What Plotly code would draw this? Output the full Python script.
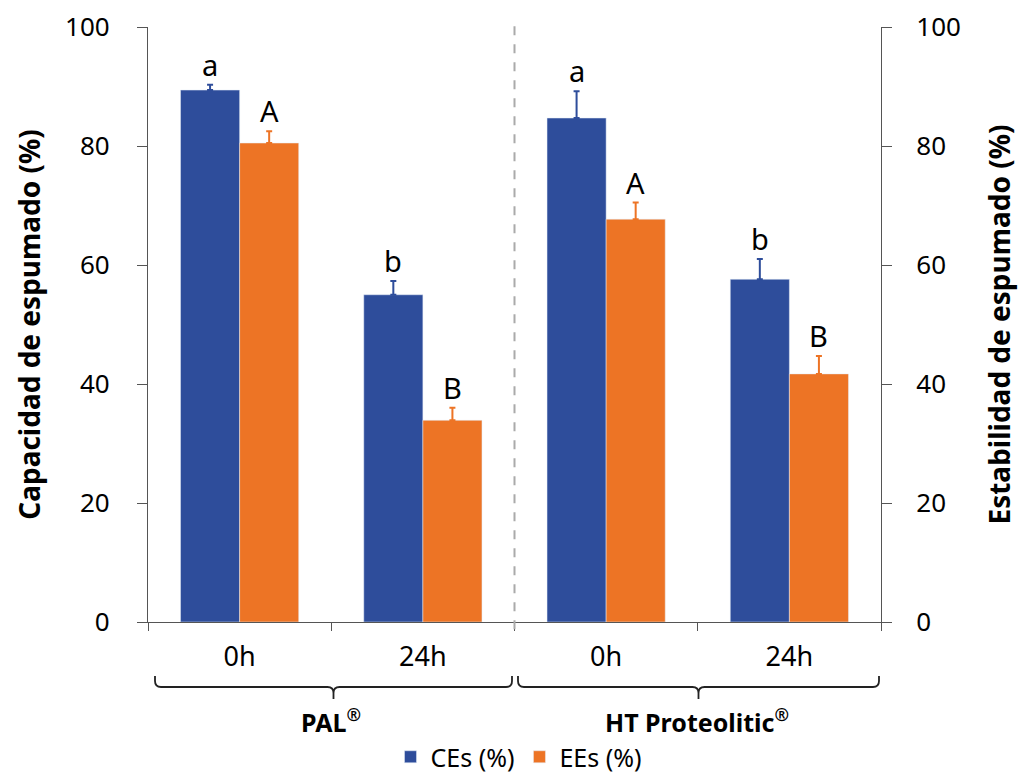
import plotly.graph_objects as go

categories = ["PAL 0h", "PAL 24h", "HT 0h", "HT 24h"]
tick_labels = ["0h", "24h", "0h", "24h"]
group_labels = ["PAL<sup>®</sup>", "HT Proteolitic<sup>®</sup>"]

ce_values = [89.4, 55.0, 84.7, 57.6]
ce_errors = [0.9, 2.3, 4.5, 3.4]
ce_letters = ["a", "b", "a", "b"]

ee_values = [80.5, 33.9, 67.7, 41.7]
ee_errors = [2.0, 2.1, 2.8, 3.0]
ee_letters = ["A", "B", "A", "B"]

BLUE = "#2E4D9B"
ORANGE = "#ED7425"
FONT = "Noto Sans"

W, H = 1019, 773
L, R, T, B = 148, 138, 27, 151
PW = W - L - R
PH = H - T - B

def px(x):
    return (x - L) / PW

def py(y):
    return (H - B - y) / PH

fig = go.Figure()
fig.add_trace(go.Bar(
    name="CEs (%)", x=categories, y=ce_values, marker_color=BLUE,
    error_y=dict(type="data", array=ce_errors, symmetric=False, arrayminus=[0]*4,
                 color=BLUE, thickness=2, width=3),
))
fig.add_trace(go.Bar(
    name="EEs (%)", x=categories, y=ee_values, marker_color=ORANGE,
    error_y=dict(type="data", array=ee_errors, symmetric=False, arrayminus=[0]*4,
                 color=ORANGE, thickness=2, width=3),
))
# helper trace so the right axis is drawn
fig.add_trace(go.Scatter(x=[categories[0]], y=[None], yaxis="y2", showlegend=False,
                         hoverinfo="skip", mode="markers"))

bargap = 0.355
bar_px = PW / 4 * (1 - bargap) / 2
annotations = []
for i, c in enumerate(categories):
    annotations.append(dict(x=c, y=ce_values[i] + ce_errors[i], text=ce_letters[i],
                            xshift=-bar_px / 2, yshift=-1, yanchor="bottom", showarrow=False,
                            font=dict(size=29, color="black", family=FONT)))
    annotations.append(dict(x=c, y=ee_values[i] + ee_errors[i], text=ee_letters[i],
                            xshift=bar_px / 2, yshift=-1, yanchor="bottom", showarrow=False,
                            font=dict(size=29, color="black", family=FONT)))

# group labels
for gx, lab in zip([331, 697], group_labels):
    annotations.append(dict(x=px(gx), y=py(720), xref="paper", yref="paper", text="<b>" + lab + "</b>",
                            xanchor="center", yanchor="middle",
                            showarrow=False, font=dict(size=25, color="black", family=FONT)))

def brace(x0, x1, ytop, yline, ybot, r=6):
    xm = (x0 + x1) / 2
    def P(x, y):
        return f"{px(x):.5f},{py(y):.5f}"
    path = (f"M {P(x0, ytop)} L {P(x0, yline - r)} Q {P(x0, yline)} {P(x0 + r, yline)} "
            f"L {P(xm - r, yline)} Q {P(xm, yline)} {P(xm, yline + r)} L {P(xm, ybot)} "
            f"M {P(xm, yline + r)} Q {P(xm, yline)} {P(xm + r, yline)} "
            f"L {P(x1 - r, yline)} Q {P(x1, yline)} {P(x1, yline - r)} L {P(x1, ytop)}")
    return dict(type="path", path=path, xref="paper", yref="paper",
                line=dict(color="#222222", width=1.8))

shapes = [
    dict(type="line", xref="x", yref="paper", x0=1.5, x1=1.5, y0=-0.012, y1=py(18),
         line=dict(color="#AAAAAA", width=2, dash="dash")),
    brace(155, 512, 676, 687, 699),
    brace(518, 879, 676, 687, 699),
]

axis_line = "#555555"
fig.update_layout(
    width=W, height=H,
    margin=dict(l=L, r=R, t=T, b=B, autoexpand=False),
    plot_bgcolor="white", paper_bgcolor="white",
    barmode="group", bargap=bargap, bargroupgap=0,
    font=dict(family=FONT, color="black"),
    xaxis=dict(type="category", range=[-0.5, 3.5], tickvals=categories, ticktext=tick_labels,
               tickson="boundaries", ticks="outside", ticklen=8, tickcolor=axis_line,
               showline=True, linecolor=axis_line, linewidth=1.2, automargin=False,
               ticklabelstandoff=10,
               tickfont=dict(size=27, family=FONT), showgrid=False),
    yaxis=dict(range=[0, 100], dtick=20, ticks="outside", ticklen=10, tickcolor=axis_line,
               showline=True, linecolor=axis_line, linewidth=1.2, showgrid=False, zeroline=False,
               tickfont=dict(size=26, family=FONT), automargin=False, ticklabelstandoff=22,
               title=dict(text="<b>Capacidad de espumado (%)</b>", font=dict(size=28, family=FONT), standoff=16)),
    yaxis2=dict(range=[0, 100], dtick=20, overlaying="y", side="right", anchor="x",
                ticks="outside", ticklen=10, tickcolor=axis_line, automargin=False,
                showline=True, linecolor=axis_line, linewidth=1.2, showgrid=False, zeroline=False,
                tickfont=dict(size=26, family=FONT), ticklabelstandoff=19,
                title=dict(text="<b>Estabilidad de espumado (%)</b>", font=dict(size=28, family=FONT), standoff=30)),
    legend=dict(orientation="h", x=px(519), xanchor="center", xref="paper",
                y=py(757), yanchor="middle", font=dict(size=25, family=FONT),
                traceorder="normal"),
    annotations=annotations,
    shapes=shapes,
)

fig.write_html("out.html", config={"displayModeBar": False},
               post_script="document.body.style.margin='0';document.body.style.overflow='hidden';")
